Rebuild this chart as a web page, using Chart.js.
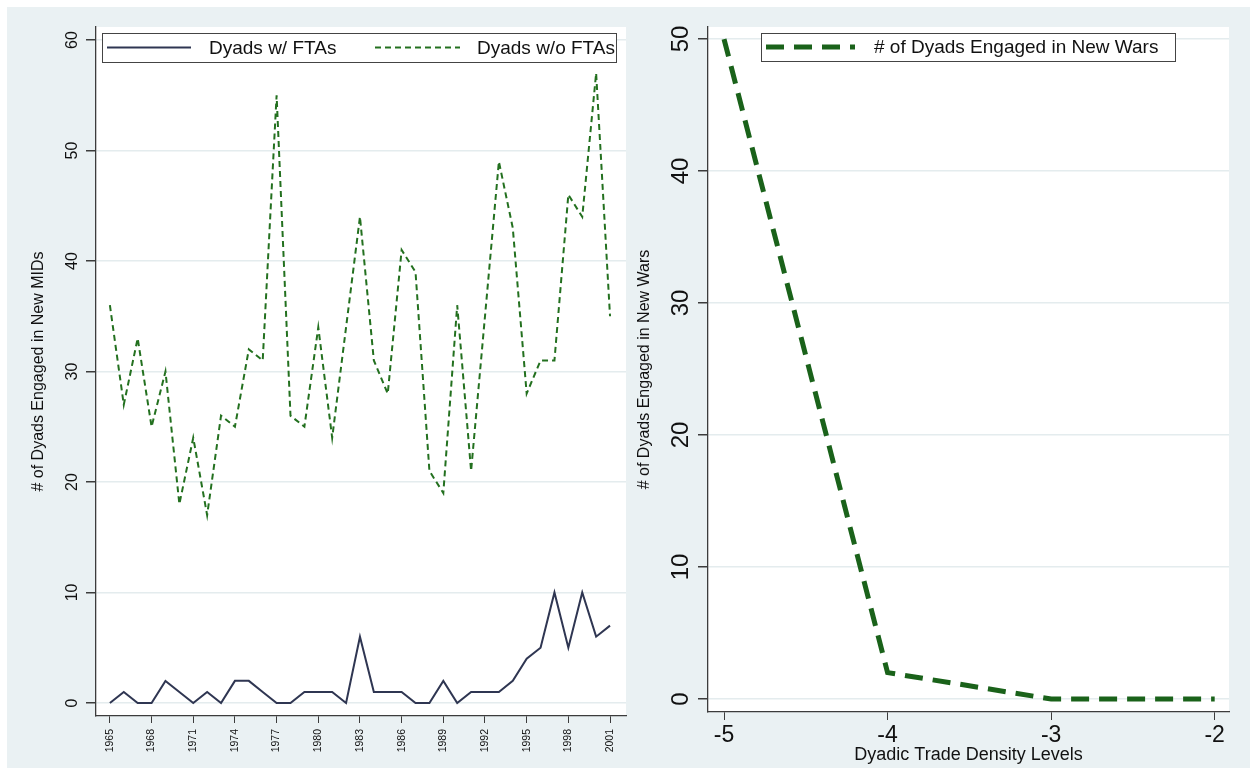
<!DOCTYPE html>
<html>
<head>
<meta charset="utf-8">
<title>Dyads engaged in new MIDs and wars</title>
<script src="https://cdn.jsdelivr.net/npm/chart.js@4/dist/chart.umd.min.js"></script>
<style>
    body { margin: 0; background: #fff; }
    canvas { position: absolute; top: 7px; }
    #mids { left: 7px; }
    #wars { left: 630px; }
</style>
</head>
<body>
<canvas id="mids" width="623" height="761"></canvas>
<canvas id="wars" width="620" height="761"></canvas>
<script>
// left panel: new MIDs per year
var years = [1965, 1966, 1967, 1968, 1969, 1970, 1971, 1972, 1973, 1974, 1975, 1976, 1977,
             1978, 1979, 1980, 1981, 1982, 1983, 1984, 1985, 1986, 1987, 1988, 1989, 1990,
             1991, 1992, 1993, 1994, 1995, 1996, 1997, 1998, 1999, 2000, 2001];
var dyadsWithFta = [0, 1, 0, 0, 2, 1, 0, 1, 0, 2, 2, 1, 0,
                    0, 1, 1, 1, 0, 6, 1, 1, 1, 0, 0, 2, 0,
                    1, 1, 1, 2, 4, 5, 10, 5, 10, 6, 7];
var dyadsWithoutFta = [36, 27, 33, 25, 30, 18, 24, 17, 26, 25, 32, 31, 55,
                       26, 25, 34, 24, 34, 44, 31, 28, 41, 39, 21, 19, 36,
                       21, 35, 49, 43, 28, 31, 31, 46, 44, 57, 35];
var midsYearTicks = [1965, 1968, 1971, 1974, 1977, 1980, 1983, 1986, 1989, 1992, 1995, 1998, 2001];
var midsCountTicks = [0, 10, 20, 30, 40, 50, 60];

// right panel: new wars by trade density level
var tradeLevels = [-5, -4, -3, -2];
var newWars = [50, 2, 0, 0];
var tradeTicks = [-5, -4, -3, -2];
var warCountTicks = [0, 10, 20, 30, 40, 50];

var FONT = '"Liberation Sans", Arial, sans-serif';
var AXIS = '#3c3c3c';
var GRID = '#e4ecee';
var TEXT = '#111';
var NAVY = '#2f3652';
var GREEN = '#23701f';
var DKGREEN = '#1a621a';

function pairs(xs, ys){
    return xs.map(function(x, i){ return {x: x, y: ys[i]}; });
}

// stata look: bluish graph region, white plot region
var stataBackground = {
    id: 'stataBackground',
    beforeDraw: function(chart){
        var ctx = chart.ctx, a = chart.chartArea;
        ctx.save();
        ctx.fillStyle = '#eaf1f3';
        ctx.fillRect(0, 0, chart.width, chart.height);
        ctx.fillStyle = '#fff';
        ctx.fillRect(a.left, a.top, a.right - a.left, a.bottom - a.top);
        ctx.restore();
    }
};

// legend in a framed box sitting inside the plot region
var boxedLegend = {
    id: 'boxedLegend',
    afterDatasetsDraw: function(chart, args, opts){
        var ctx = chart.ctx, b = opts.box;
        var cy = b.y + b.h / 2;
        ctx.save();
        ctx.fillStyle = '#fff';
        ctx.fillRect(b.x, b.y, b.w, b.h);
        ctx.strokeStyle = '#444';
        ctx.lineWidth = 1;
        ctx.strokeRect(b.x + 0.5, b.y + 0.5, b.w, b.h);
        opts.items.forEach(function(it, i){
            var ds = chart.data.datasets[i];
            ctx.beginPath();
            ctx.setLineDash(ds.borderDash || []);
            ctx.strokeStyle = ds.borderColor;
            ctx.lineWidth = ds.borderWidth;
            ctx.moveTo(it.x0, cy);
            ctx.lineTo(it.x1, cy);
            ctx.stroke();
            ctx.setLineDash([]);
            ctx.fillStyle = TEXT;
            ctx.font = opts.fontSize + 'px ' + FONT;
            ctx.textBaseline = 'middle';
            ctx.fillText(ds.label, it.tx, cy + 1);
        });
        ctx.restore();
    }
};

function fixedTicks(list){
    return function(scale){
        scale.ticks = list.map(function(v){ return {value: v}; });
    };
}

function plain(v){ return String(v); }

new Chart(document.getElementById('mids'), {
    type: 'line',
    data: {
        datasets: [{
            label: 'Dyads w/ FTAs',
            data: pairs(years, dyadsWithFta),
            borderColor: NAVY,
            borderWidth: 2,
            pointRadius: 0
        }, {
            label: 'Dyads w/o FTAs',
            data: pairs(years, dyadsWithoutFta),
            borderColor: GREEN,
            borderWidth: 2,
            borderDash: [6, 4],
            pointRadius: 0
        }]
    },
    options: {
        responsive: false,
        animation: false,
        events: [],
        layout: {padding: {left: 18, right: 4, top: 20, bottom: 0}},
        plugins: {
            legend: {display: false},
            tooltip: {enabled: false},
            boxedLegend: {
                fontSize: 19,
                box: {x: 95, y: 26, w: 514, h: 29},
                items: [{x0: 100, x1: 184, tx: 202}, {x0: 368, x1: 453, tx: 470}]
            }
        },
        scales: {
            x: {
                type: 'linear',
                min: 1964,
                max: 2002.15,
                afterBuildTicks: fixedTicks(midsYearTicks),
                afterFit: function(s){ s.height = 52; },
                ticks: {autoSkip: false, minRotation: 90, maxRotation: 90, padding: 6,
                        color: TEXT, font: {family: FONT, size: 10.5}, callback: plain},
                grid: {drawOnChartArea: false, tickLength: 7, tickColor: AXIS},
                border: {color: AXIS, width: 1.3}
            },
            y: {
                min: -1.18,
                max: 61.18,
                afterBuildTicks: fixedTicks(midsCountTicks),
                afterFit: function(s){ s.width = 71; },
                ticks: {minRotation: 90, maxRotation: 90, crossAlign: 'center', padding: 5,
                        color: TEXT, font: {family: FONT, size: 16}, callback: plain},
                grid: {color: GRID, lineWidth: 1.5, tickLength: 10, tickColor: AXIS},
                border: {color: AXIS, width: 1.3},
                title: {display: true, text: '# of Dyads Engaged in New MIDs', color: TEXT,
                        font: {family: FONT, size: 16}, padding: {top: 4, bottom: 4}}
            }
        }
    },
    plugins: [stataBackground, boxedLegend]
});

new Chart(document.getElementById('wars'), {
    type: 'line',
    data: {
        datasets: [{
            label: '# of Dyads Engaged in New Wars',
            data: pairs(tradeLevels, newWars),
            borderColor: DKGREEN,
            borderWidth: 5,
            borderDash: [18, 10],
            pointRadius: 0
        }]
    },
    options: {
        responsive: false,
        animation: false,
        events: [],
        layout: {padding: {left: 2, right: 21, top: 20, bottom: 0}},
        plugins: {
            legend: {display: false},
            tooltip: {enabled: false},
            boxedLegend: {
                fontSize: 19,
                box: {x: 131, y: 26, w: 414, h: 28},
                items: [{x0: 136, x1: 225, tx: 244}]
            }
        },
        scales: {
            x: {
                type: 'linear',
                min: -5.098,
                max: -1.9125,
                afterBuildTicks: fixedTicks(tradeTicks),
                afterFit: function(s){ s.height = 56; },
                ticks: {autoSkip: false, maxRotation: 0, padding: 2,
                        color: TEXT, font: {family: FONT, size: 23}, callback: plain},
                grid: {drawOnChartArea: false, tickLength: 8, tickColor: AXIS},
                border: {color: AXIS, width: 1.3},
                title: {display: true, text: 'Dyadic Trade Density Levels', color: TEXT,
                        font: {family: FONT, size: 18}, padding: {top: 0, bottom: 2}}
            },
            y: {
                min: -0.985,
                max: 50.91,
                afterBuildTicks: fixedTicks(warCountTicks),
                afterFit: function(s){ s.width = 76; },
                ticks: {minRotation: 90, maxRotation: 90, crossAlign: 'center', padding: 3,
                        color: TEXT, font: {family: FONT, size: 24}, callback: plain},
                grid: {color: GRID, lineWidth: 1.5, tickLength: 10, tickColor: AXIS},
                border: {color: AXIS, width: 1.3},
                title: {display: true, text: '# of Dyads Engaged in New Wars', color: TEXT,
                        font: {family: FONT, size: 16}, padding: {top: 3, bottom: 4}}
            }
        }
    },
    plugins: [stataBackground, boxedLegend]
});
</script>
</body>
</html>
